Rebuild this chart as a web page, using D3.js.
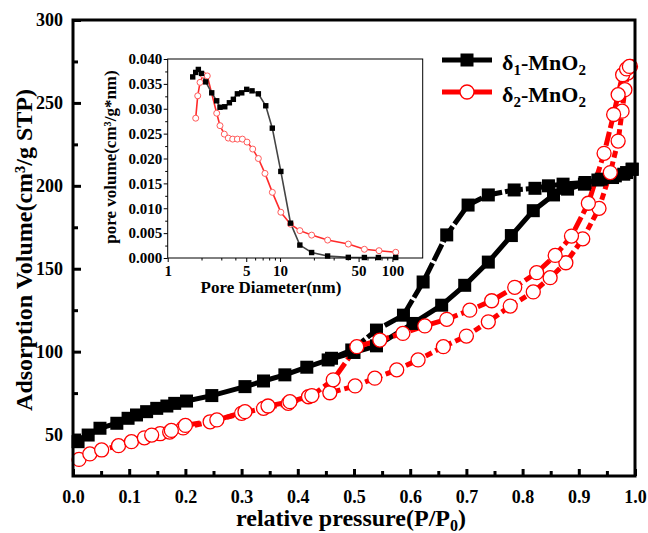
<!DOCTYPE html>
<html><head><meta charset="utf-8">
<script src="https://cdn.jsdelivr.net/npm/d3@7"></script>
<style>
body{margin:0;background:#fff}
svg{display:block}
text{font-family:"Liberation Serif","Times New Roman",serif;font-weight:bold;fill:#000}
</style>
</head><body>
<svg id="c" width="648" height="533"></svg>
<script>
// ---------- main isotherm data ----------
const d1AdsP = [0.009,0.027,0.048,0.078,0.098,0.113,0.131,0.149,0.167,0.181,0.202,0.247,0.306,0.339,0.377,0.416,0.454,0.50,0.54,0.605,0.656,0.697,0.739,0.78,0.819,0.855,0.88,0.91,0.94,0.965,0.985,0.995];
const d1AdsV = [45.7,49.7,53.8,56.8,59.8,61.8,63.8,65.8,67.2,68.8,70.2,73.5,78.9,82.3,86,90.6,95,99.5,103.5,117,128,140,154,170,185,194.5,198,201,204,206,208,210];
const d1DesP = [0.46,0.496,0.54,0.588,0.623,0.665,0.703,0.739,0.785,0.822,0.846,0.872,0.911,0.934,0.96,0.98,0.995];
const d1DesV = [96,101,113,122,142,170.4,188.4,194.5,197.5,198.5,200,201,202,203.5,205,207,210];
const d2AdsP = [0.0107,0.03,0.051,0.081,0.104,0.127,0.155,0.172,0.196,0.244,0.30,0.339,0.383,0.419,0.457,0.502,0.537,0.576,0.614,0.659,0.70,0.739,0.778,0.819,0.849,0.877,0.907,0.936,0.956,0.97,0.977,0.982,0.987,0.992];
const d2AdsV = [35,38.3,40.7,43.3,45.7,48,50.5,51.5,54,57.7,62.8,65.8,68.8,72.8,75.2,79.3,84,89,95,103,109.4,118,127.5,136,144.6,153.6,168,186.4,208,227,245,258,268,272];
const d2DesP = [0.14,0.175,0.20,0.256,0.306,0.347,0.386,0.425,0.463,0.505,0.546,0.587,0.626,0.665,0.706,0.745,0.786,0.825,0.858,0.887,0.917,0.945,0.962,0.97,0.978,0.985,0.99];
const d2DesV = [49.7,52.5,55.5,58.8,63.8,67.2,69.8,73.5,83,103,107,111,115.5,119.5,125,130.7,138.8,147.6,158,169.7,189.5,219.6,243,255,267,270.5,272];

// ---------- inset pore size distribution ----------
const inD1Diam = [1.67,1.775,1.874,2.0,2.18,2.465,2.73,2.92,3.22,3.54,3.84,4.17,4.56,5.05,5.63,6.41,7.46,8.53,10.16,12.4,15,19.1,26.5,40.5,56.3,75,107];
const inD1Vol  = [0.0364,0.0373,0.0379,0.0371,0.0354,0.0332,0.0316,0.0303,0.0304,0.0312,0.0319,0.0330,0.0332,0.0339,0.0336,0.0330,0.0306,0.0261,0.0174,0.0070,0.0026,0.0011,0.0004,0.00013,0.0001,0.0001,0.0001];
const inD2Diam = [1.775,1.85,1.94,2.07,2.25,2.73,2.92,3.19,3.46,3.79,4.17,4.62,5.08,5.71,6.41,7.34,8.54,10.16,12.4,15,19.1,26.5,40.5,56.3,76,107];
const inD2Vol  = [0.0281,0.0326,0.0353,0.0368,0.0366,0.0291,0.0266,0.0249,0.0241,0.0239,0.0239,0.0239,0.0233,0.0219,0.0200,0.0170,0.0132,0.0092,0.0068,0.0055,0.0046,0.0036,0.0028,0.00175,0.00147,0.00115];

// ---------- ticks ----------
const mainXTicks = [0,0.1,0.2,0.3,0.4,0.5,0.6,0.7,0.8,0.9,1.0];
const mainXMinor = [0.05,0.15,0.25,0.35,0.45,0.55,0.65,0.75,0.85,0.95];
const mainYTicks = [50,100,150,200,250,300];
const mainYMinor = [75,125,175,225,275];
const inXTicks = [1,5,10,50,100];
const inXMinor = [2,3,4,6,7,8,9,20,30,40,60,70,80,90];
const inYTicks = [0,0.005,0.01,0.015,0.02,0.025,0.03,0.035,0.04];
const inYMinor = [0.0025,0.0075,0.0125,0.0175,0.0225,0.0275,0.0325,0.0375];

const svg = d3.select("#c");
const M = {l:73, r:635, t:20, b:476};
const x = d3.scaleLinear().domain([0,1]).range([M.l,M.r]);
const y = d3.scaleLinear().domain([25,300]).range([M.b,M.t]);

function zip(a,b){return a.map((v,i)=>[v,b[i]]);}
const line = d3.line().x(d=>x(d[0])).y(d=>y(d[1]));

const RED = "#ff0000";
const series = [
  {pts:zip(d1AdsP,d1AdsV), color:"#000", dash:null, mark:"sq"},
  {pts:zip(d1DesP,d1DesV), color:"#000", dash:"18,3", mark:"sq"},
  {pts:zip(d2AdsP,d2AdsV), color:RED, dash:"7,4", mark:"ci"},
  {pts:zip(d2DesP,d2DesV), color:RED, dash:"14,4", mark:"ci"}
];
const gS = svg.append("g");
series.forEach(s=>{
  gS.append("path").attr("d",line(s.pts)).attr("fill","none")
    .attr("stroke",s.color).attr("stroke-width",5)
    .attr("stroke-dasharray",s.dash);
});
series.forEach(s=>{
  if(s.mark==="sq"){
    gS.selectAll(null).data(s.pts).enter().append("rect")
      .attr("x",d=>x(d[0])-6.5).attr("y",d=>y(d[1])-6.5)
      .attr("width",13).attr("height",13).attr("fill","#000");
  } else {
    gS.selectAll(null).data(s.pts).enter().append("circle")
      .attr("cx",d=>x(d[0])).attr("cy",d=>y(d[1])).attr("r",7)
      .attr("fill","#fff").attr("stroke",RED).attr("stroke-width",1.3);
  }
});

// main axes
const ax = svg.append("g");
const xa = ax.append("g").attr("transform",`translate(0,${M.b})`)
  .call(d3.axisBottom(x).tickValues(mainXTicks).tickFormat(d3.format(".1f")).tickSize(-7).tickPadding(14));
const xm = ax.append("g").attr("transform",`translate(0,${M.b})`)
  .call(d3.axisBottom(x).tickValues(mainXMinor).tickFormat("").tickSize(-5));
const ya = ax.append("g").attr("transform",`translate(${M.l},0)`)
  .call(d3.axisLeft(y).tickValues(mainYTicks).tickSize(-8).tickPadding(10));
const ym = ax.append("g").attr("transform",`translate(${M.l},0)`)
  .call(d3.axisLeft(y).tickValues(mainYMinor).tickFormat("").tickSize(-5));
[xa,xm,ya,ym].forEach(g=>{
  g.select(".domain").remove();
  g.selectAll(".tick line").attr("stroke","#000").attr("stroke-width",3);
  g.selectAll(".tick text").attr("font-size",18).attr("font-family",'"Liberation Serif",serif').attr("font-weight","bold");
});
ax.append("rect").attr("x",M.l).attr("y",M.t).attr("width",M.r-M.l).attr("height",M.b-M.t)
  .attr("fill","none").attr("stroke","#000").attr("stroke-width",3);

// axis titles
const yt = svg.append("text").attr("transform",`translate(32,250) rotate(-90)`)
  .attr("text-anchor","middle").attr("font-size",24);
yt.append("tspan").text("Adsorption Volume(cm³/g STP)");
const xt = svg.append("text").attr("x",351).attr("y",526).attr("text-anchor","middle").attr("font-size",24);
xt.append("tspan").text("relative pressure(P/P");
xt.append("tspan").attr("font-size",16).attr("dy",5).text("0");
xt.append("tspan").attr("dy",-5).text(")");

// ---------- inset ----------
const I = {l:167.7, r:422.7, t:59, b:258};
const xi = d3.scaleLog().domain([1,186]).range([I.l,I.r]);
const yi = d3.scaleLinear().domain([0,0.04]).range([I.b,I.t]);
const gi = svg.append("g");
gi.append("rect").attr("x",I.l).attr("y",I.t).attr("width",I.r-I.l).attr("height",I.b-I.t)
  .attr("fill","#fff");
const li = d3.line().x(d=>xi(d[0])).y(d=>yi(d[1]));
const in1 = zip(inD1Diam,inD1Vol), in2 = zip(inD2Diam,inD2Vol);
gi.append("path").attr("d",li(in2)).attr("fill","none").attr("stroke","#ff2a2a").attr("stroke-width",1.6);
gi.append("path").attr("d",li(in1)).attr("fill","none").attr("stroke","#444").attr("stroke-width",1.6);
gi.selectAll(null).data(in2).enter().append("circle")
  .attr("cx",d=>xi(d[0])).attr("cy",d=>yi(d[1])).attr("r",3)
  .attr("fill","#fff").attr("stroke","#ff5a5a").attr("stroke-width",1);
gi.selectAll(null).data(in1).enter().append("rect")
  .attr("x",d=>xi(d[0])-2.7).attr("y",d=>yi(d[1])-2.7).attr("width",5.4).attr("height",5.4).attr("fill","#000");

const ixa = gi.append("g").attr("transform",`translate(0,${I.b})`)
  .call(d3.axisBottom(xi).tickValues(inXTicks).tickFormat(d3.format("d")).tickSize(4).tickPadding(3));
const ixm = gi.append("g").attr("transform",`translate(0,${I.b})`)
  .call(d3.axisBottom(xi).tickValues(inXMinor).tickFormat("").tickSize(2.5));
const iya = gi.append("g").attr("transform",`translate(${I.l},0)`)
  .call(d3.axisLeft(yi).tickValues(inYTicks).tickFormat(d3.format(".3f")).tickSize(4).tickPadding(1.5));
const iym = gi.append("g").attr("transform",`translate(${I.l},0)`)
  .call(d3.axisLeft(yi).tickValues(inYMinor).tickFormat("").tickSize(2.5));
[ixa,ixm,iya,iym].forEach(g=>{
  g.select(".domain").remove();
  g.selectAll(".tick line").attr("stroke","#000").attr("stroke-width",1);
  g.selectAll(".tick text").attr("font-size",15).attr("font-family",'"Liberation Serif",serif').attr("font-weight","bold");
});
gi.append("rect").attr("x",I.l).attr("y",I.t).attr("width",I.r-I.l).attr("height",I.b-I.t)
  .attr("fill","none").attr("stroke","#000").attr("stroke-width",1);
svg.append("text").attr("transform","translate(116,157) rotate(-90)")
  .attr("text-anchor","middle").attr("font-size",17).text("pore volume(cm³/g*nm)");
svg.append("text").attr("x",271).attr("y",293).attr("text-anchor","middle")
  .attr("font-size",17).text("Pore Diameter(nm)");

// ---------- legend ----------
const legendNames = [["δ","1","-MnO","2"],["δ","2","-MnO","2"]];
const lg = svg.append("g");
const legY = [60, 92];
legendNames.forEach((nm,i)=>{
  const col = i===0 ? "#000" : RED;
  lg.append("line").attr("x1",442).attr("x2",492).attr("y1",legY[i]).attr("y2",legY[i])
    .attr("stroke",col).attr("stroke-width",5);
  if(i===0){
    lg.append("rect").attr("x",467-6.5).attr("y",legY[i]-6.5).attr("width",13).attr("height",13).attr("fill","#000");
  } else {
    lg.append("circle").attr("cx",467).attr("cy",legY[i]).attr("r",7).attr("fill","#fff").attr("stroke",RED).attr("stroke-width",1.3);
  }
  const t = lg.append("text").attr("x",502).attr("y",legY[i]+9.5).attr("font-size",22);
  t.append("tspan").text(nm[0]);
  t.append("tspan").attr("font-size",15).attr("dy",5).text(nm[1]);
  t.append("tspan").attr("dy",-5).text(nm[2]);
  t.append("tspan").attr("font-size",15).attr("dy",5).text(nm[3]);
});
</script>
</body></html>
